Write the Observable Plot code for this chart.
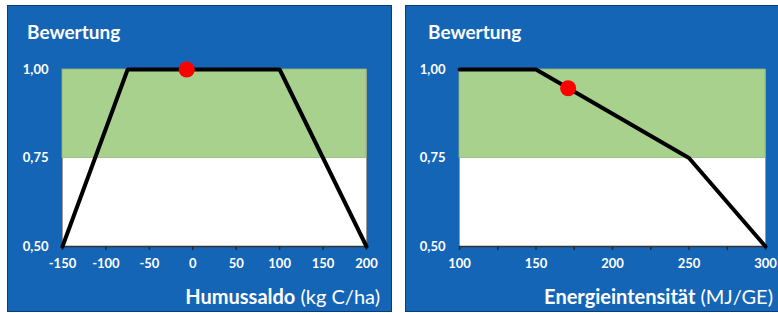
<!DOCTYPE html>
<html>
<head>
<meta charset="utf-8">
<script src="https://cdn.jsdelivr.net/npm/d3@7"></script>
<script src="https://cdn.jsdelivr.net/npm/@observablehq/plot@0.6"></script>
<style>
  html, body { margin: 0; padding: 0; background: #fff; width: 778px; height: 313px; overflow: hidden; }
  .panel { position: absolute; background: #1565b7; box-shadow: inset 0 0 0 1px #0b3d75; overflow: hidden; }
  .panel .t { position: absolute; color: #fff; font-family: Lato, sans-serif; white-space: nowrap; line-height: 1; }
  .ttl { font-weight: bold; font-size: 19px; }
  .xl { font-size: 20px; }
  .xl b { font-weight: bold; }
  svg { overflow: visible; }
</style>
</head>
<body>
<div id="p1" class="panel" style="left:7px; top:5px; width:385px; height:307px;"></div>
<div id="p2" class="panel" style="left:405px; top:5px; width:380px; height:307px;"></div>
<script>
// ---- Data ----
const yLabel = "Bewertung";
const yTicks = [0.5, 0.75, 1.0];
const yTickLabels = ["0,50", "0,75", "1,00"];
const bandRange = [0.75, 1.0];

// Panel 1: Humussaldo
const humusX = [-150, -75, 100, 200];
const humusY = [0.5, 1.0, 1.0, 0.5];
const humusPoint = {x: -7, y: 1.0};
const humusDomain = [-150, 200];
const humusTicks = [-150, -100, -50, 0, 50, 100, 150, 200];
const humusLabels = [-150, -100, -50, 0, 50, 100, 150, 200];
const humusTitleBold = "Humussaldo";
const humusTitleUnit = "(kg C/ha)";

// Panel 2: Energieintensität
const energyX = [100, 150, 250, 300];
const energyY = [1.0, 1.0, 0.75, 0.5];
const energyPoint = {x: 171, y: 0.947};
const energyDomain = [100, 300];
const energyTicks = [100, 125, 150, 175, 200, 225, 250, 275, 300];
const energyLabels = [100, 150, 200, 250, 300];
const energyTitleBold = "Energieintensität";
const energyTitleUnit = "(MJ/GE)";

const font = "Lato, sans-serif";

function makePanel(el, cfg) {
  const line = cfg.xs.map((x, i) => ({x, y: cfg.ys[i]}));
  const plot = Plot.plot({
    width: cfg.width, height: 307,
    marginLeft: cfg.ml, marginRight: cfg.width - cfg.ml - cfg.pw,
    marginTop: 64, marginBottom: 66,
    style: {background: "transparent", fontFamily: font, fontSize: "13px", color: "white", overflow: "visible"},
    x: {domain: cfg.domain, label: null},
    y: {domain: [0.5, 1.0], label: null},
    marks: [
      Plot.frame({fill: "white", stroke: "#9a9a9a"}),
      Plot.rect([{x1: cfg.domain[0], x2: cfg.domain[1], y1: bandRange[0], y2: bandRange[1]}],
        {x1: "x1", x2: "x2", y1: "y1", y2: "y2", fill: "#a9d18e", stroke: "#8fb878", strokeWidth: 0.8}),
      Plot.ruleY([0.5], {stroke: "#333333", strokeWidth: 1.6}),
      Plot.axisX({ticks: cfg.ticks, tickSize: 4, tickFormat: () => "", stroke: "#2a2a2a", strokeWidth: 1.5}),
      Plot.axisX({ticks: cfg.labels, tickSize: 0, tickPadding: 12, fill: "white", fontWeight: "bold", fontSize: 13,
        tickFormat: d => String(d)}),
      Plot.axisY({ticks: yTicks, tickSize: 0, tickPadding: 14, fill: "white", fontWeight: "bold", fontSize: 13,
        tickFormat: d => yTickLabels[yTicks.indexOf(d)]}),
      Plot.line(line, {x: "x", y: "y", stroke: "black", strokeWidth: 4, strokeLinejoin: "miter"}),
      Plot.dot([cfg.point], {x: "x", y: "y", r: 8, fill: "#ff0000", stroke: "none"})
    ]
  });
  el.appendChild(plot);
  const t = document.createElement("div");
  t.className = "t ttl"; t.textContent = yLabel;
  t.style.left = cfg.tl + "px"; t.style.top = "17px";
  el.appendChild(t);
  const xl = document.createElement("div");
  xl.className = "t xl";
  const b = document.createElement("b"); b.textContent = cfg.titleBold;
  xl.appendChild(b); xl.appendChild(document.createTextNode(" " + cfg.titleUnit));
  xl.style.right = cfg.xr + "px"; xl.style.top = "281px";
  el.appendChild(xl);
}

makePanel(document.getElementById("p1"), {
  width: 385, ml: 55, pw: 304, domain: humusDomain, ticks: humusTicks, labels: humusLabels,
  xs: humusX, ys: humusY, point: humusPoint, tl: 20, xr: 12,
  titleBold: humusTitleBold, titleUnit: humusTitleUnit
});
makePanel(document.getElementById("p2"), {
  width: 380, ml: 54, pw: 306, domain: energyDomain, ticks: energyTicks, labels: energyLabels,
  xs: energyX, ys: energyY, point: energyPoint, tl: 23, xr: 12,
  titleBold: energyTitleBold, titleUnit: energyTitleUnit
});
</script>
</body>
</html>
